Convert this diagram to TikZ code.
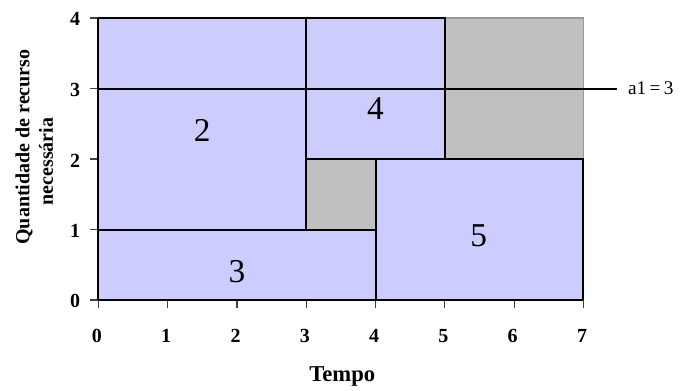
\documentclass[tikz,border=0pt]{standalone}
\usepackage{fontspec}
\setmainfont{Liberation Serif}
\definecolor{lav}{HTML}{CCCCFF}
\definecolor{idlegray}{HTML}{C0C0C0}
\begin{document}
\begin{tikzpicture}[x=51.975pt,y=52.875pt,
  task/.style={fill=lav,draw=black,line width=1.5pt},
  idle/.style={fill=idlegray,draw=black!40,line width=0.8pt},
  tickmark/.style={line width=0.9pt,draw=black!75},
  ticklab/.style={font=\fontsize{15}{17}\selectfont\bfseries,inner sep=0pt},
  big/.style={font=\fontsize{25}{29}\selectfont,inner sep=0pt},
  axlab/.style={font=\fontsize{15}{18}\selectfont\bfseries,inner sep=0pt}]
\useasboundingbox (-1.4185,-1.2766) rectangle (8.4228,4.2553);
% idle areas
\draw[idle] (5,2) rectangle (7,4);
\draw[idle] (3,1) rectangle (4,2);
% tasks
\draw[task] (0,1) rectangle (3,4);
\draw[task] (3,2) rectangle (5,4);
\draw[task] (0,0) rectangle (4,1);
\draw[task] (4,0) rectangle (7,2);
% axes ticks
\foreach \i in {0,...,4} {
  \coordinate (yt\i) at (0,\i);
  \draw[tickmark] (yt\i) -- ++(-0.115,0);
  \node[ticklab,anchor=east] (yl\i) at (-0.26,\i-0.02) {\i};
}
\foreach \i in {0,...,7} {
  \coordinate (xt\i) at (\i,0);
  \draw[tickmark] (xt\i) -- ++(0,-0.115);
  \node[ticklab] (xl\i) at (\i-0.02,-0.51) {\i};
}
\draw[line width=1.7pt] (0,0) -- (7,0);
\draw[line width=1.7pt] (0,0) -- (0,4);
% capacity line
\coordinate (a0) at (0,3);
\node[font=\fontsize{14.5}{17}\selectfont,anchor=west,inner sep=0pt] (alab) at (7.64,3) {a1\kern2.5pt=\kern2.5pt3};
\coordinate (a1) at (7.485,3);
\draw[line width=1.5pt] (a0) -- (a1);
% task labels
\node[big] (n2) at (1.5,2.4) {2};
\node[big] (n4) at (4.0,2.71) {4};
\node[big] (n3) at (2.0,0.40) {3};
\node[big] (n5) at (5.49,0.91) {5};
% axis labels
\node[axlab,font=\fontsize{17}{20}\selectfont\bfseries] (xlab) at (3.52,-1.09) {Tempo};
\node[axlab,rotate=90] (ylab1) at (-1.072,2.17) {Quantidade de recurso};
\node[axlab,rotate=90] (ylab2) at (-0.755,1.965) {necessária};
\end{tikzpicture}
\end{document}
